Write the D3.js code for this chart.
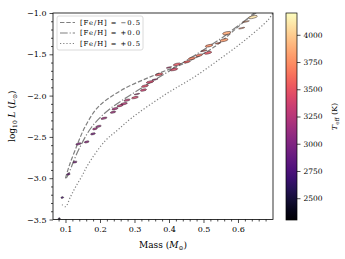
<!DOCTYPE html>
<html>
<head>
<meta charset="utf-8">
<script src="https://cdn.jsdelivr.net/npm/d3@7"></script>
<style>
  body { margin: 0; background: #fff; }
  text { font-family: "DejaVu Serif", serif; }
</style>
</head>
<body>
<div id="main-canvas"></div>
<script>
// Isochrone tracks (mass, log L) for three metallicities
const dashMass  = [0.100, 0.110, 0.1275, 0.1565, 0.195, 0.263, 0.359, 0.456, 0.533, 0.591, 0.652];
const dashLogL  = [-3.00, -2.86, -2.665, -2.38, -2.137, -1.933, -1.75, -1.588, -1.405, -1.201, -0.98];
const dotdMass  = [0.100, 0.1035, 0.137, 0.176, 0.224, 0.311, 0.398, 0.485, 0.553, 0.611, 0.659];
const dotdLogL  = [-3.00, -2.99, -2.665, -2.38, -2.177, -1.933, -1.71, -1.485, -1.302, -1.12, -0.978];
const dottMass  = [0.090, 0.100, 0.115, 0.130, 0.147, 0.166, 0.2145, 0.253, 0.292, 0.388, 0.475, 0.553, 0.620, 0.688, 0.701];
const dottLogL  = [-3.32, -3.345, -3.22, -3.10, -2.98, -2.83, -2.55, -2.41, -2.27, -1.99, -1.77, -1.54, -1.33, -1.08, -1.00];
const feh = ["\u22120.5", "+0.0", "+0.5"];

// Stars: mass, log L, Teff, and the ellipse half-widths
const starMass = [0.6435, 0.6232, 0.6107, 0.5672, 0.5594, 0.542, 0.516, 0.5014, 0.513, 0.487, 0.4667, 0.4522,
  0.4232, 0.400, 0.4145, 0.371, 0.3594, 0.345, 0.3304, 0.326, 0.3072, 0.3014, 0.2783, 0.2696, 0.258, 0.2435,
  0.2377, 0.2116, 0.1957, 0.1855, 0.1797, 0.1614, 0.1377, 0.1275, 0.1087, 0.0907, 0.082];
const starLogL = [-1.049, -1.104, -1.183, -1.244, -1.329, -1.366, -1.396, -1.457, -1.482, -1.512, -1.549, -1.591,
  -1.622, -1.659, -1.683, -1.744, -1.805, -1.835, -1.884, -1.933, -1.982, -2.024, -2.055, -2.098, -2.122, -2.159,
  -2.201, -2.274, -2.372, -2.402, -2.463, -2.561, -2.585, -2.805, -2.951, -3.234, -3.488];
const starTeff = [4100, 3900, 3800, 3850, 3800, 3700, 3750, 3600, 3500, 3650, 3700, 3550,
  3500, 3300, 3450, 3500, 3200, 3400, 3450, 3350, 3200, 3400, 3300, 3250, 3300, 3200,
  3150, 3150, 3100, 3150, 2950, 3050, 3000, 2950, 2900, 2700, 2500];
const starMassErr = [0.013, 0.010, 0.009, 0.012, 0.012, 0.008, 0.011, 0.009, 0.011, 0.010, 0.011, 0.010,
  0.011, 0.008, 0.011, 0.011, 0.009, 0.011, 0.010, 0.009, 0.008, 0.010, 0.009, 0.010, 0.009, 0.009,
  0.008, 0.009, 0.008, 0.007, 0.007, 0.007, 0.008, 0.006, 0.005, 0.004, 0.003];
const starLogLErr = [0.016, 0.006, 0.006, 0.018, 0.016, 0.006, 0.014, 0.006, 0.014, 0.013, 0.014, 0.012,
  0.014, 0.006, 0.014, 0.013, 0.006, 0.013, 0.013, 0.012, 0.006, 0.012, 0.012, 0.012, 0.012, 0.012,
  0.011, 0.011, 0.011, 0.011, 0.011, 0.011, 0.011, 0.010, 0.010, 0.010, 0.008];

const xTicks = [0.1, 0.2, 0.3, 0.4, 0.5, 0.6];
const yTicks = [-3.5, -3.0, -2.5, -2.0, -1.5, -1.0];
const cTicks = [2500, 2750, 3000, 3250, 3500, 3750, 4000];

let margin = { left: 53, right: 72, top: 13, bottom: 39.5 };
let width = 345 - margin.left - margin.right;
let height = 259 - margin.top - margin.bottom;

let svg = d3.select("#main-canvas").append("svg")
    .attr("width", 345)
    .attr("height", 259);

let x = d3.scaleLinear().domain([0.0638, 0.7015]).range([0, width]);
let y = d3.scaleLinear().domain([-3.5, -1.0]).range([height, 0]);
let cScale = d3.scaleSequential(d3.interpolateMagma).domain([2300, 4200]);

let g = svg.append("g").attr("transform", `translate(${margin.left},${margin.top})`);

g.append("clipPath").attr("id", "clip")
    .append("rect").attr("width", width).attr("height", height);

let plot = g.append("g").attr("clip-path", "url(#clip)");

// tracks
const lineGen = d3.line().x(d => x(d[0])).y(d => y(d[1])).curve(d3.curveCatmullRom);
const tracks = [
  { m: dashMass, l: dashLogL, dash: "4.4,1.9" },
  { m: dotdMass, l: dotdLogL, dash: "7.7,1.9,1.2,1.9" },
  { m: dottMass, l: dottLogL, dash: "1.2,2" }
];
tracks.forEach(t => {
  plot.append("path")
      .datum(d3.zip(t.m, t.l))
      .attr("d", lineGen)
      .attr("fill", "none")
      .attr("stroke", "#808080")
      .attr("stroke-width", 1.2)
      .attr("stroke-dasharray", t.dash);
});

// stars as ellipses
const stars = starMass.map((m, i) => ({ m: m, l: starLogL[i], t: starTeff[i], em: starMassErr[i], el: starLogLErr[i] }));
plot.append("g").selectAll("ellipse")
    .data(stars)
    .enter().append("ellipse")
    .attr("cx", d => x(d.m))
    .attr("cy", d => y(d.l))
    .attr("rx", d => x(d.m + d.em) - x(d.m))
    .attr("ry", d => y(d.l) - y(d.l + d.el))
    .attr("transform", d => `rotate(-12,${x(d.m)},${y(d.l)})`)
    .attr("fill", d => cScale(d.t))
    .attr("fill-opacity", 0.85)
    .attr("stroke", "#2a1a20")
    .attr("stroke-width", 0.45);

// axes
let xAxis = g.append("g").attr("transform", `translate(0,${height})`)
    .call(d3.axisBottom(x).tickValues(xTicks).tickSize(3.5).tickPadding(3).tickFormat(d3.format(".1f")));
let xMinor = g.append("g").attr("transform", `translate(0,${height})`)
    .call(d3.axisBottom(x).tickValues(d3.range(0.08, 0.70, 0.02).filter(v => Math.abs(v * 10 - Math.round(v * 10)) > 1e-6)).tickSize(2).tickFormat(""));
let yAxis = g.append("g")
    .call(d3.axisLeft(y).tickValues(yTicks).tickSize(3.5).tickPadding(3).tickFormat(d => d3.format(".1f")(d).replace("-", "\u2212")));
let yMinor = g.append("g")
    .call(d3.axisLeft(y).tickValues(d3.range(-3.5, -0.99, 0.1).filter(v => Math.abs(v * 2 - Math.round(v * 2)) > 1e-6)).tickSize(2).tickFormat(""));

[xAxis, xMinor, yAxis, yMinor].forEach(a => {
  a.select(".domain").remove();
  a.selectAll("line").attr("stroke", "#000").attr("stroke-width", 0.7);
  a.selectAll("text").attr("font-family", "DejaVu Serif").attr("font-size", 8).attr("fill", "#000");
});

// frame
g.append("rect").attr("width", width).attr("height", height)
    .attr("fill", "none").attr("stroke", "#000").attr("stroke-width", 0.8);

// legend
let leg = g.append("g").attr("transform", "translate(4,3)");
leg.append("rect").attr("width", 86).attr("height", 34).attr("rx", 2)
    .attr("fill", "#fff").attr("fill-opacity", 0.85).attr("stroke", "#d0d0d0").attr("stroke-width", 0.8);
tracks.forEach((t, i) => {
  let yy = 6.5 + i * 10.5;
  leg.append("line").attr("x1", 3).attr("x2", 18).attr("y1", yy).attr("y2", yy)
      .attr("stroke", "#808080").attr("stroke-width", 1.2).attr("stroke-dasharray", t.dash);
  leg.append("text").attr("x", 23).attr("y", yy + 2.3)
      .attr("font-size", 6.8).attr("textLength", 60).attr("lengthAdjust", "spacing")
      .text("[Fe/H] = " + feh[i]);
});

// axis labels
let xl = svg.append("text").attr("x", margin.left + width / 2).attr("y", 248)
    .attr("text-anchor", "middle").attr("font-size", 9);
xl.append("tspan").text("Mass (");
xl.append("tspan").attr("font-style", "italic").text("M");
xl.append("tspan").attr("font-size", 6).attr("dy", 2).text("\u2299");
xl.append("tspan").attr("dy", -2).text(")");

let yl = svg.append("text").attr("transform", `translate(15,${margin.top + height / 2}) rotate(-90)`)
    .attr("text-anchor", "middle").attr("font-size", 9);
yl.append("tspan").text("log");
yl.append("tspan").attr("font-size", 6).attr("dy", 2).text("10");
yl.append("tspan").attr("dy", -2).text(" ");
yl.append("tspan").attr("font-style", "italic").text("L");
yl.append("tspan").text(" (");
yl.append("tspan").attr("font-style", "italic").text("L");
yl.append("tspan").attr("font-size", 6).attr("dy", 2).text("\u2299");
yl.append("tspan").attr("dy", -2).text(")");

// colorbar
let cbX = 286, cbW = 11, cbTop = 13, cbH = 207;
let cy = d3.scaleLinear().domain([2300, 4200]).range([cbTop + cbH, cbTop]);
let grad = svg.append("defs").append("linearGradient").attr("id", "cgrad")
    .attr("x1", 0).attr("y1", 1).attr("x2", 0).attr("y2", 0);
d3.range(0, 1.0001, 0.05).forEach(s => {
  grad.append("stop").attr("offset", s).attr("stop-color", d3.interpolateMagma(s));
});
svg.append("rect").attr("x", cbX).attr("y", cbTop).attr("width", cbW).attr("height", cbH)
    .attr("fill", "url(#cgrad)").attr("stroke", "#000").attr("stroke-width", 0.7);
let cAxis = svg.append("g").attr("transform", `translate(${cbX + cbW},0)`)
    .call(d3.axisRight(cy).tickValues(cTicks).tickSize(3.5).tickPadding(3).tickFormat(d3.format("d")));
cAxis.select(".domain").remove();
cAxis.selectAll("line").attr("stroke", "#000").attr("stroke-width", 0.7);
cAxis.selectAll("text").attr("font-family", "DejaVu Serif").attr("font-size", 7.5).attr("fill", "#000");

let cl = svg.append("text").attr("transform", `translate(337,${cbTop + cbH / 2}) rotate(-90)`)
    .attr("text-anchor", "middle").attr("font-size", 8);
cl.append("tspan").attr("font-style", "italic").text("T");
cl.append("tspan").attr("font-size", 5.5).attr("dy", 1.8).text("eff");
cl.append("tspan").attr("dy", -1.8).text(" (K)");
</script>
</body>
</html>
